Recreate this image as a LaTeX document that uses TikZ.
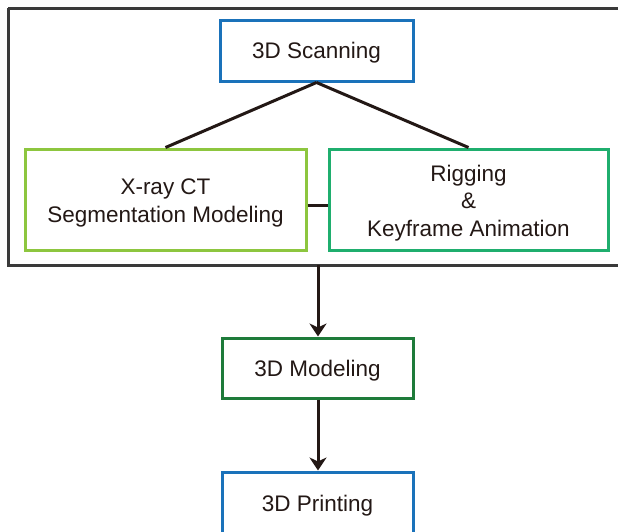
\documentclass[tikz,border=0pt]{standalone}
\usepackage{fontspec}
\setmainfont{Liberation Sans}
\usetikzlibrary{arrows.meta}
\definecolor{scanblue}{HTML}{1A72BA}
\definecolor{ctgreen}{HTML}{8DC63F}
\definecolor{riggreen}{HTML}{1FAE6E}
\definecolor{modgreen}{HTML}{1E7B3A}
\definecolor{framegray}{HTML}{3A3A3A}
\definecolor{inkdark}{HTML}{231815}
\begin{document}
\begin{tikzpicture}[x=1pt,y=-1pt,
  box/.style={draw, line width=3pt, fill=white, inner sep=0pt},
  boxtext/.style={align=center, inner sep=0pt,
    font=\fontsize{22.5}{27.5}\selectfont, text=inkdark},
  link/.style={draw=inkdark, line width=3pt},
  flow/.style={link, -{Stealth[length=13pt,width=17pt,inset=4pt]}}]
\useasboundingbox (0,0) rectangle (618,531);
% outer frame around the capture stage
\draw[framegray, line width=3pt] (8,8) -- (630,8) (8,8) -- (8,265) -- (630,265);
\coordinate (framebot) at (318,265);
% boxes
\node[box, draw=scanblue, minimum width=193pt, minimum height=61pt] (scan) at (316.5,50.5) {};
\node[box, draw=ctgreen, minimum width=281pt, minimum height=101pt] (ct) at (165.5,199.5) {};
\node[box, draw=riggreen, minimum width=279pt, minimum height=101pt] (rig) at (468.5,199.5) {};
\node[box, draw=modgreen, minimum width=191pt, minimum height=60pt] (model) at (317.5,368) {};
\node[box, draw=scanblue, minimum width=191pt, minimum height=64pt] (print) at (317.5,504) {};
% box captions, set a little below each box centre
\node[boxtext] (scantxt) at ([yshift=-2pt]scan.center) {3D Scanning};
\node[boxtext] (cttxt) at ([yshift=-3.5pt]ct.center) {X-ray CT\\Segmentation Modeling};
\node[boxtext] (rigtxt) at ([yshift=-3.5pt]rig.center) {Rigging\\\&\\Keyframe Animation};
\node[boxtext] (modeltxt) at ([yshift=-3pt]model.center) {3D Modeling};
\node[boxtext] (printtxt) at ([yshift=-2pt]print.center) {3D Printing};
% connectors
\draw[link] (scan.south) -- (ct.north) (scan.south) -- (rig.north);
\draw[link] (ct.east |- 0,205) -- (rig.west |- 0,205);
\draw[flow] (framebot) -- (model.north -| framebot);
\draw[flow] (model.south -| framebot) -- (print.north -| framebot);
\end{tikzpicture}
\end{document}
